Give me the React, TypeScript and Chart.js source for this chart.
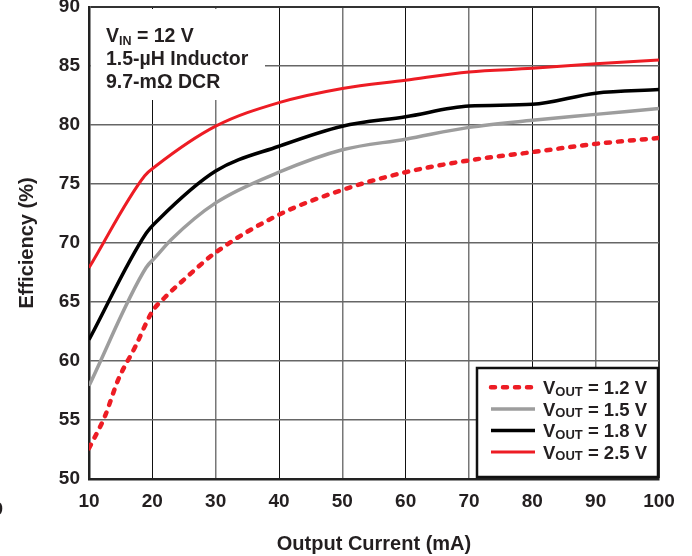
import React, { useEffect, useRef } from 'react';
import { Chart, registerables } from 'chart.js';

Chart.register(...registerables);

const FONT = "'Liberation Sans', Arial, Helvetica, sans-serif";

// Output current (mA) sample points for each series
const current12 = [10, 12.5, 14.6, 17.3, 20, 22, 25, 30, 40, 50, 60, 70, 80, 90, 100];
const eff12 = [52.6, 55.3, 58.4, 61.2, 64.2, 65.4, 66.9, 69.2, 72.4, 74.5, 76.0, 77.0, 77.7, 78.4, 78.9];

const current15 = [10, 19, 20.5, 23, 30, 40, 50, 60, 70, 80, 90, 100];
const eff15 = [57.9, 67.9, 68.8, 70.3, 73.4, 76.0, 77.9, 78.8, 79.8, 80.4, 80.9, 81.4];

const current18 = [10, 19, 21, 30, 40, 50, 60, 70, 80, 90, 100];
const eff18 = [61.8, 70.8, 72.0, 76.1, 78.2, 79.9, 80.7, 81.6, 81.75, 82.7, 83.0];

const current25 = [10, 18.8, 20.5, 30, 40, 50, 60, 70, 80, 90, 100];
const eff25 = [67.9, 75.7, 76.5, 79.9, 81.9, 83.1, 83.8, 84.5, 84.8, 85.2, 85.5];

const legendVolts = ['1.2', '1.5', '1.8', '2.5'];
const annotationLines = ['1.5-µH Inductor', '9.7-mΩ DCR'];

const xTitle = 'Output Current (mA)';
const yTitle = 'Efficiency (%)';

const RED = '#ed1c24';
const GREY = '#9d9d9d';
const BLACK = '#000000';
const TEXT = '#231f20';

const toPts = (xs: number[], ys: number[]) => xs.map((x, i) => ({ x, y: ys[i] }));

const overlayPlugin = {
  id: 'overlay',
  beforeDatasetsDraw(chart: any) {
    const { ctx, chartArea: ca } = chart;
    ctx.save();
    ctx.fillStyle = '#ffffff';
    ctx.fillRect(ca.left + 2, ca.top + 2, 174, 91);
    ctx.restore();
  },
  afterDraw(chart: any) {
    const { ctx, chartArea: ca } = chart;
    ctx.save();
    ctx.fillStyle = TEXT;
    ctx.textBaseline = 'alphabetic';
    ctx.textAlign = 'left';
    const big = `bold 19.5px ${FONT}`;
    const sub = `bold 12.5px ${FONT}`;
    // annotation
    let x = ca.left + 17;
    const y = ca.top + 34.7;
    ctx.font = big;
    ctx.fillText('V', x, y);
    x += ctx.measureText('V').width;
    ctx.font = sub;
    ctx.fillText('IN', x, y + 3.5);
    x += ctx.measureText('IN').width;
    ctx.font = big;
    ctx.fillText(' = 12 V', x, y);
    annotationLines.forEach((t, i) => {
      ctx.fillText(t, ca.left + 17, ca.top + 58 + i * 23.3);
    });

    // legend box
    const bx = ca.right - 182;
    const by = ca.bottom - 111;
    const bw = 181;
    const bh = 109;
    ctx.fillStyle = '#ffffff';
    ctx.fillRect(bx, by, bw, bh);
    ctx.strokeStyle = '#111';
    ctx.lineWidth = 2.5;
    ctx.strokeRect(bx, by, bw, bh);

    const lf = `bold 18.5px ${FONT}`;
    const lsub = `bold 13px ${FONT}`;
    chart.data.datasets.forEach((ds: any, i: number) => {
      const cy = by + 19.3 + i * 21.6;
      ctx.save();
      ctx.strokeStyle = ds.borderColor;
      ctx.lineWidth = ds.borderWidth;
      ctx.lineCap = ds.borderCapStyle || 'butt';
      ctx.setLineDash(ds.borderDash || []);
      ctx.beginPath();
      ctx.moveTo(bx + 14, cy);
      ctx.lineTo(bx + 58, cy);
      ctx.stroke();
      ctx.restore();
      ctx.fillStyle = TEXT;
      let tx = bx + 66;
      const base = cy + 6.7;
      ctx.font = lf;
      ctx.fillText('V', tx, base);
      tx += ctx.measureText('V').width;
      ctx.font = lsub;
      ctx.fillText('OUT', tx, base + 1.5);
      tx += ctx.measureText('OUT').width;
      ctx.font = lf;
      ctx.fillText(` = ${legendVolts[i]} V`, tx, base);
    });

    // clipped stray label at the far left edge
    ctx.font = `bold 19px ${FONT}`;
    ctx.fillStyle = TEXT;
    ctx.textAlign = 'right';
    ctx.textBaseline = 'middle';
    ctx.fillText('0', 3, 510);
    ctx.restore();
  },
};

export default function App() {
  const ref = useRef<HTMLCanvasElement | null>(null);
  useEffect(() => {
    if (!ref.current) return;
    const chart = new Chart(ref.current, {
      type: 'line',
      data: {
        datasets: [
          {
            label: 'VOUT = 1.2 V',
            data: toPts(current12, eff12),
            borderColor: RED,
            borderWidth: 4.5,
            borderDash: [4, 8],
            borderCapStyle: 'round',
            pointRadius: 0,
            cubicInterpolationMode: 'monotone',
          },
          {
            label: 'VOUT = 1.5 V',
            data: toPts(current15, eff15),
            borderColor: GREY,
            borderWidth: 3.5,
            pointRadius: 0,
            cubicInterpolationMode: 'monotone',
          },
          {
            label: 'VOUT = 1.8 V',
            data: toPts(current18, eff18),
            borderColor: BLACK,
            borderWidth: 3.5,
            pointRadius: 0,
            cubicInterpolationMode: 'monotone',
          },
          {
            label: 'VOUT = 2.5 V',
            data: toPts(current25, eff25),
            borderColor: RED,
            borderWidth: 3,
            pointRadius: 0,
            cubicInterpolationMode: 'monotone',
          },
        ],
      },
      options: {
        animation: false,
        responsive: true,
        maintainAspectRatio: false,
        layout: { padding: { top: 7, right: 33, left: 0, bottom: 0 } },
        plugins: { legend: { display: false }, tooltip: { enabled: false } },
        scales: {
          x: {
            type: 'linear',
            min: 10,
            max: 100,
            afterFit: (s: any) => {
              s.height = 77;
              s.paddingLeft = 0;
              s.paddingRight = 0;
            },
            ticks: {
              stepSize: 10,
              padding: 11,
              color: TEXT,
              font: { family: FONT, size: 19, weight: 'bold' },
              maxRotation: 0,
            },
            grid: {
              drawTicks: false,
              color: (c: any) => {
                const v = c.tick ? c.tick.value : 0;
                if (v === 100) return '#333';
                return v % 20 === 0 ? '#111' : '#777';
              },
              lineWidth: (c: any) => {
                const v = c.tick ? c.tick.value : 0;
                if (v === 100) return 2;
                return v % 20 === 0 ? 1 : 1.5;
              },
            },
            border: { display: true, color: '#222', width: 2.5 },
            title: {
              display: true,
              text: xTitle,
              color: TEXT,
              font: { family: FONT, size: 20, weight: 'bold' },
              padding: { top: 0, bottom: 0 },
            },
          },
          y: {
            min: 50,
            max: 90,
            afterFit: (s: any) => {
              s.width = 89;
              s.paddingTop = 0;
              s.paddingBottom = 0;
            },
            ticks: {
              stepSize: 5,
              padding: 9,
              color: TEXT,
              font: { family: FONT, size: 19, weight: 'bold' },
            },
            grid: {
              drawTicks: false,
              color: (c: any) => (c.tick && c.tick.value === 90 ? '#333' : '#666'),
              lineWidth: (c: any) => (c.tick && c.tick.value === 90 ? 2 : 1.5),
            },
            border: { display: true, color: '#222', width: 2.5 },
            title: {
              display: true,
              text: yTitle,
              color: TEXT,
              font: { family: FONT, size: 20, weight: 'bold' },
              padding: { top: 15, bottom: 0 },
            },
          },
        },
      },
      plugins: [overlayPlugin],
    } as any);
    return () => chart.destroy();
  }, []);

  return (
    <div style={{ position: 'absolute', left: 0, top: 0, width: 692, height: 556, background: '#fff' }}>
      <canvas ref={ref} />
    </div>
  );
}
